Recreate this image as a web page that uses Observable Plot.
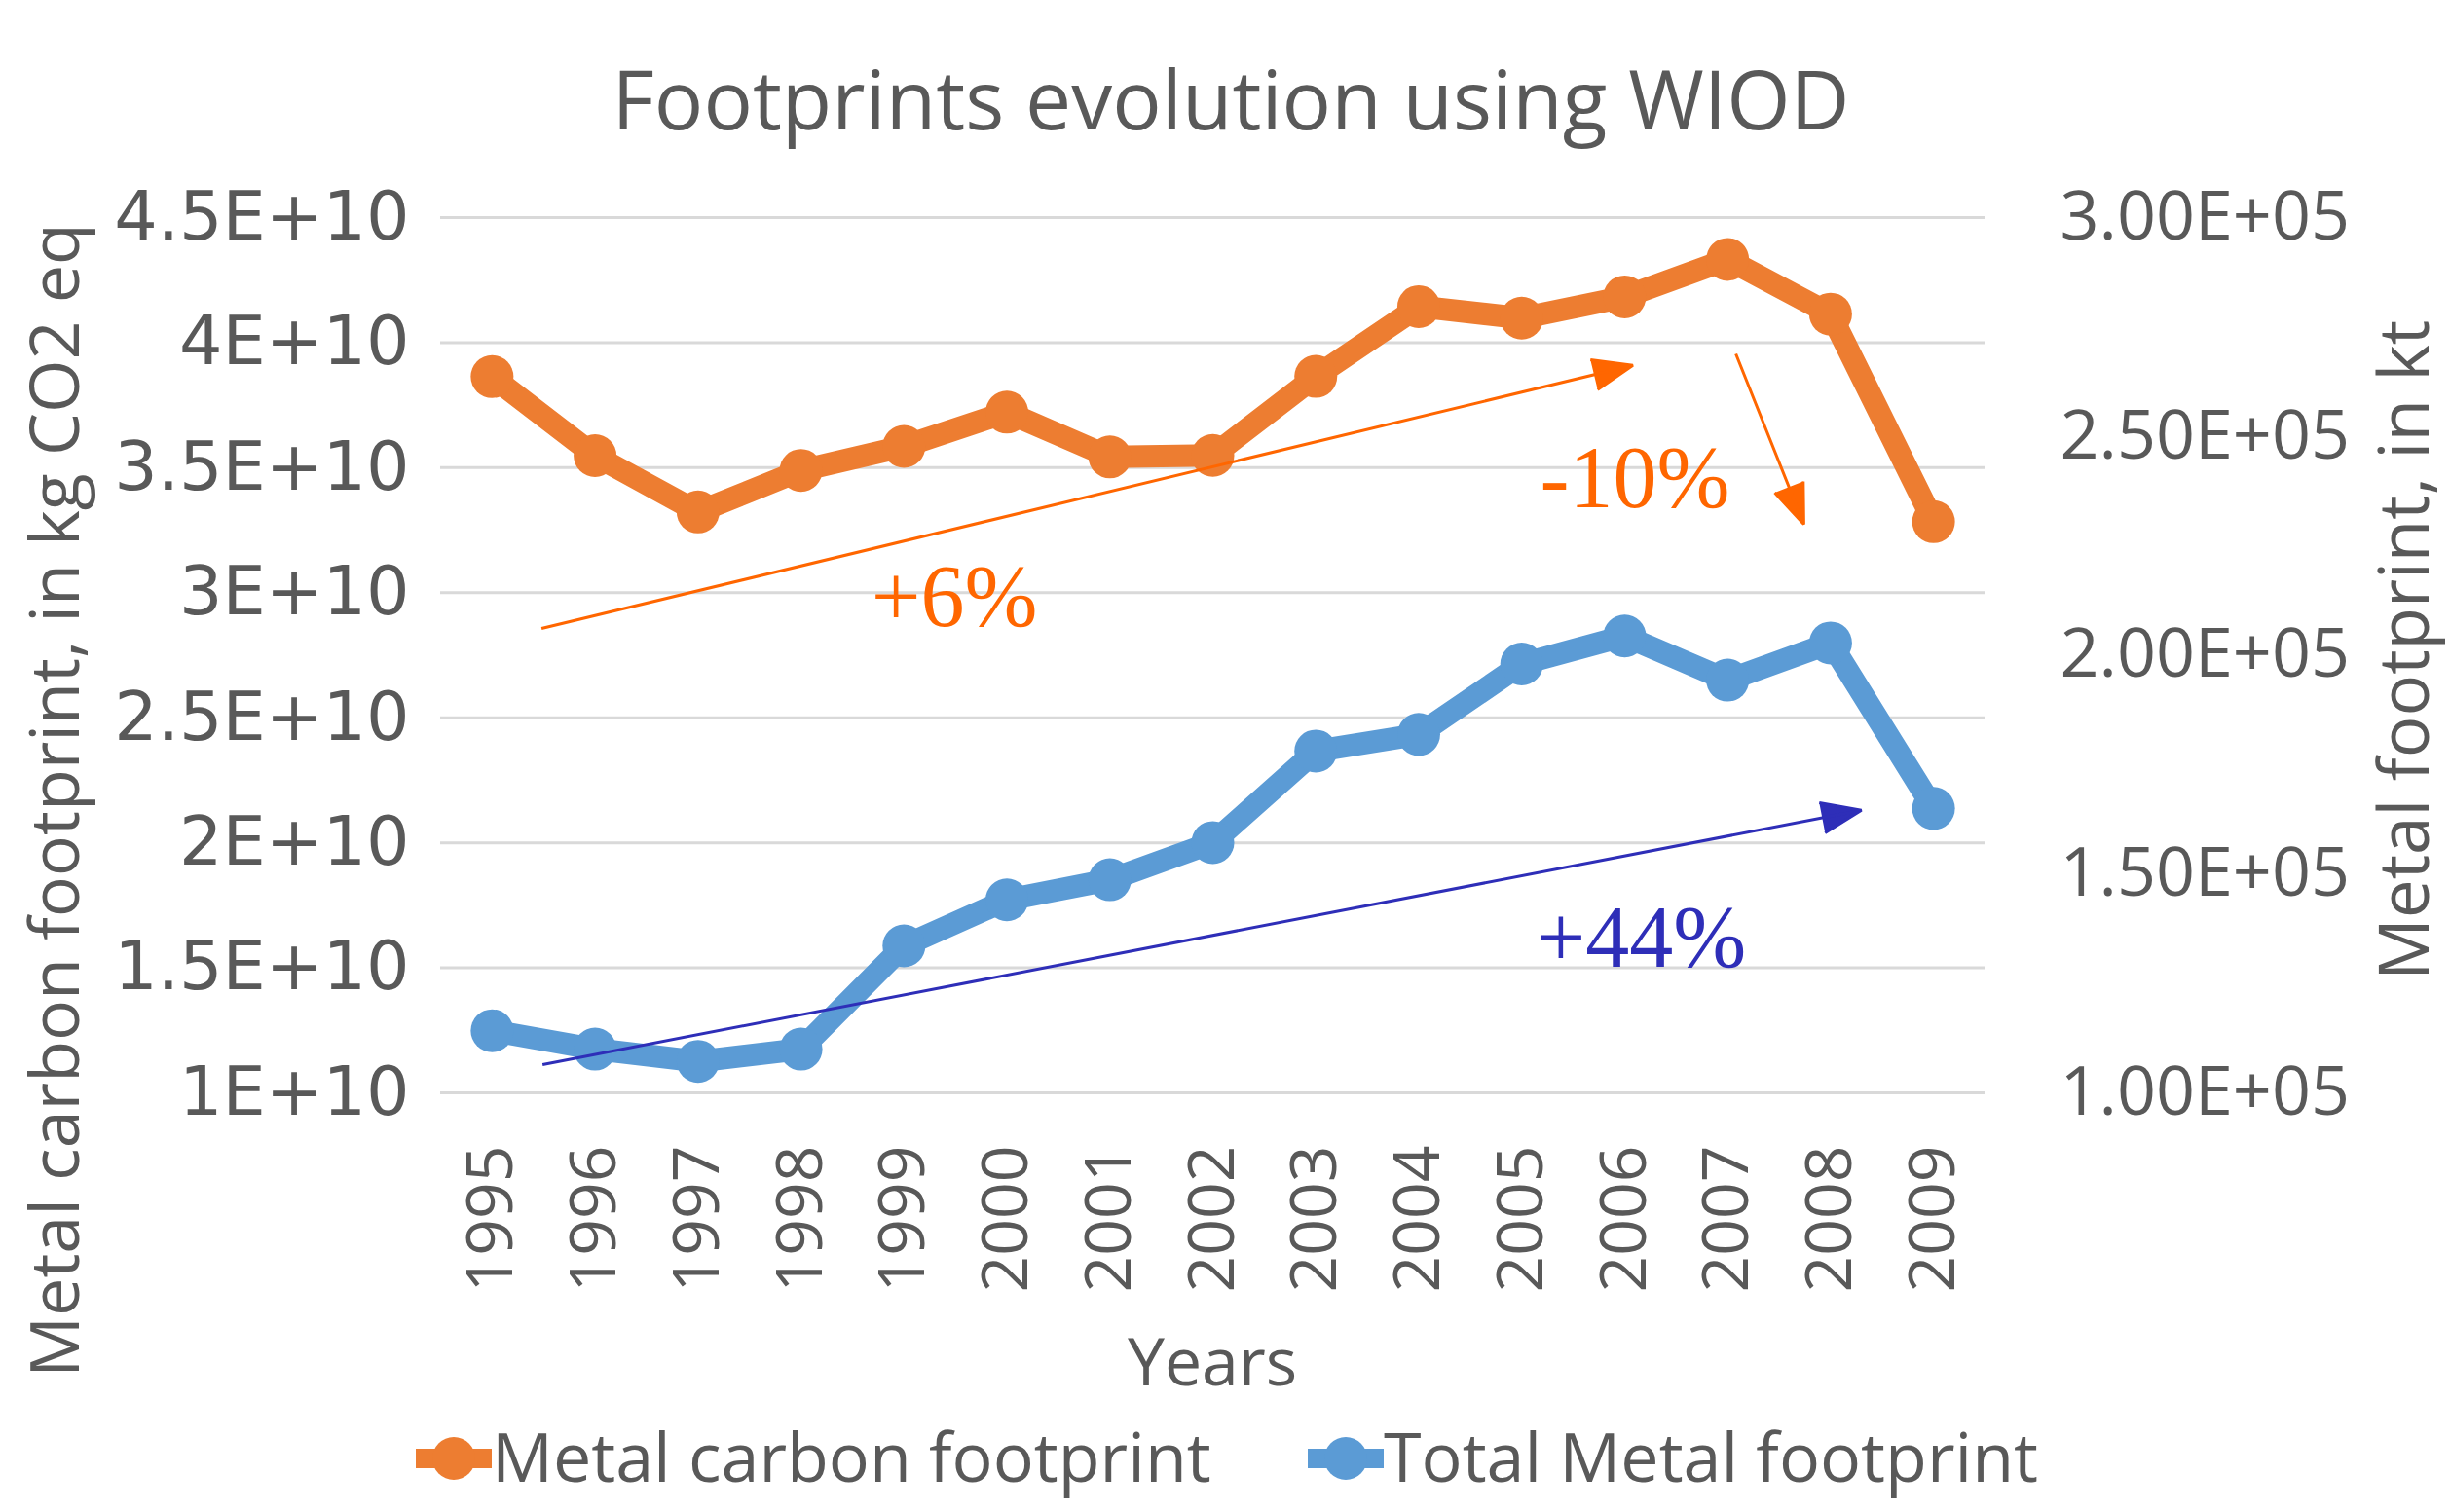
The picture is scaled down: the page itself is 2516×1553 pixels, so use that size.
<!DOCTYPE html>
<html>
<head>
<meta charset="utf-8">
<script src="https://cdn.jsdelivr.net/npm/d3@7"></script>
<script src="https://cdn.jsdelivr.net/npm/@observablehq/plot@0.6"></script>
<style>
html, body { margin: 0; padding: 0; background: #ffffff; overflow: hidden; }
#root { position: relative; width: 2516px; height: 1553px; overflow: hidden; color: #595959; font-family: "Open Sans", sans-serif; }
.t { position: absolute; white-space: nowrap; line-height: 1; }
#chart { position: absolute; left: 0; top: 160px; }
.legend-item { position: absolute; display: flex; align-items: flex-start; }
</style>
</head>
<body>
<div id="root">
  <div class="t" style="left:6px;width:2516px;text-align:center;top:59px;font-size:84px">Footprints evolution using WIOD</div>
  <div id="chart"></div>
  <div class="t" style="left:54px;top:822px;font-size:70px;transform:translate(-50%,-50%) rotate(-90deg)">Metal carbon footprint, in kg CO2 eq</div>
  <div class="t" style="left:2466px;top:668px;font-size:71px;transform:translate(-50%,-50%) rotate(-90deg)">Metal footprint, in kt</div>
  <div class="t" style="left:1245px;top:1363px;font-size:68px;transform:translateX(-50%)">Years</div>
  <div id="legend"></div>
</div>
<script>
// ---- data ----
const years = [1995, 1996, 1997, 1998, 1999, 2000, 2001, 2002, 2003, 2004, 2005, 2006, 2007, 2008, 2009];
const yearLabels = ["1995", "1996", "1997", "1998", "1999", "2000", "2001", "2002", "2003", "2004", "2005", "2006", "2007", "2008", "2009"];
// Metal carbon footprint, kg CO2 eq (left axis)
const carbonFootprint = [3.864e10, 3.548e10, 3.323e10, 3.489e10, 3.585e10, 3.722e10, 3.543e10, 3.549e10, 3.865e10, 4.144e10, 4.098e10, 4.183e10, 4.333e10, 4.114e10, 3.284e10];
// Total metal footprint, kt (right axis)
const metalFootprint = [1.142e5, 1.100e5, 1.072e5, 1.100e5, 1.336e5, 1.441e5, 1.487e5, 1.572e5, 1.781e5, 1.819e5, 1.980e5, 2.044e5, 1.943e5, 2.028e5, 1.650e5];

const seriesNames = ["Metal carbon footprint", "Total Metal footprint"];
const seriesColors = ["#ED7D31", "#5B9BD5"];

const leftDomain = [1e10, 4.5e10];
const leftTicks = [1e10, 1.5e10, 2e10, 2.5e10, 3e10, 3.5e10, 4e10, 4.5e10];
const leftTickLabels = ["1E+10", "1.5E+10", "2E+10", "2.5E+10", "3E+10", "3.5E+10", "4E+10", "4.5E+10"];
const rightDomain = [1e5, 3e5];
const rightTicks = [1e5, 1.5e5, 2e5, 2.5e5, 3e5];
const rightTickLabels = ["1.00E+05", "1.50E+05", "2.00E+05", "2.50E+05", "3.00E+05"];

// annotations (in data units: year, left-axis value)
const annotationTexts = ["+6%", "-10%", "+44%"];
const annotationYears = [1999.49, 2006.10, 2006.16];
const annotationValues = [2.867e10, 3.34e10, 1.504e10];
const annotationColors = ["#FF6600", "#FF6600", "#2E2EB8"];
const arrowStartYears = [1995.48, 2007.08, 1995.49];
const arrowStartValues = [2.857e10, 3.955e10, 1.113e10];
const arrowEndYears = [2006.08, 2007.74, 2008.30];
const arrowEndValues = [3.909e10, 3.274e10, 2.13e10];

// ---- build ----
const toLeft = d3.scaleLinear().domain(rightDomain).range(leftDomain);
const carbonData = years.map((year, i) => ({year, value: carbonFootprint[i]}));
const metalData = years.map((year, i) => ({year, value: toLeft(metalFootprint[i])}));
const rightTicksLeft = rightTicks.map(toLeft);
const notes = annotationTexts.map((text, i) => ({text, year: annotationYears[i], value: annotationValues[i], color: annotationColors[i]}));
const arrows = arrowStartYears.map((x1, i) => ({x1, y1: arrowStartValues[i], x2: arrowEndYears[i], y2: arrowEndValues[i], color: annotationColors[i]}));

const marks = [
  Plot.gridY(leftTicks, {stroke: "#D9D9D9", strokeOpacity: 1, strokeWidth: 3}),
  Plot.axisY(leftTicks, {anchor: "left", tickSize: 0, tickPadding: 32, label: null,
    tickFormat: d => leftTickLabels[leftTicks.indexOf(d)], fontSize: 70, fontFamily: "DejaVu Sans"}),
  Plot.axisY(rightTicksLeft, {anchor: "right", tickSize: 0, tickPadding: 77, label: null,
    tickFormat: d => rightTickLabels[rightTicksLeft.indexOf(d)], fontSize: 70, fontFamily: "Open Sans"}),
  Plot.axisX(years, {anchor: "bottom", tickSize: 0, tickPadding: 54, tickRotate: -90, label: null,
    tickFormat: d => yearLabels[years.indexOf(d)], fontSize: 66, fontFamily: "Open Sans"}),
  Plot.line(carbonData, {x: "year", y: "value", stroke: seriesColors[0], strokeWidth: 23, strokeLinejoin: "round"}),
  Plot.dot(carbonData, {x: "year", y: "value", r: 22, fill: seriesColors[0], stroke: "none"}),
  Plot.line(metalData, {x: "year", y: "value", stroke: seriesColors[1], strokeWidth: 23, strokeLinejoin: "round"}),
  Plot.dot(metalData, {x: "year", y: "value", r: 22, fill: seriesColors[1], stroke: "none"})
];
arrows.forEach(a => {
  marks.push(Plot.arrow([a], {x1: "x1", y1: "y1", x2: "x2", y2: "y2", stroke: a.color, fill: a.color,
    strokeWidth: 3, headLength: 22, headAngle: 42, bend: 0, strokeLinecap: "butt", strokeLinejoin: "miter"}));
});
notes.forEach(n => {
  marks.push(Plot.text([n], {x: "year", y: "value", text: "text", fill: n.color, fontFamily: "Liberation Serif",
    fontSize: 90, textAnchor: "middle", lineAnchor: "bottom"}));
});

const chart = Plot.plot({
  width: 2516,
  height: 1280,
  marginTop: 63,
  marginBottom: 318,
  marginLeft: 452,
  marginRight: 478,
  style: {fontFamily: "Open Sans", color: "#595959", background: "transparent", overflow: "visible"},
  x: {type: "linear", domain: [1994.5, 2009.5]},
  y: {type: "linear", domain: leftDomain},
  marks
});
document.getElementById("chart").appendChild(chart);

// ---- legend ----
const legend = document.getElementById("legend");
const legendSymbolLeft = [427, 1343];
seriesNames.forEach((name, i) => {
  const item = document.createElement("div");
  item.className = "legend-item";
  item.style.left = legendSymbolLeft[i] + "px";
  item.style.top = "1460px";
  item.innerHTML = `<svg width="78" height="76" style="display:block;margin-top:15px"><line x1="0" x2="78" y1="23" y2="23" stroke="${seriesColors[i]}" stroke-width="20"/><circle cx="39" cy="23" r="22" fill="${seriesColors[i]}"/></svg><span style="font-size:70px;line-height:1">${name}</span>`;
  legend.appendChild(item);
});
</script>
</body>
</html>
